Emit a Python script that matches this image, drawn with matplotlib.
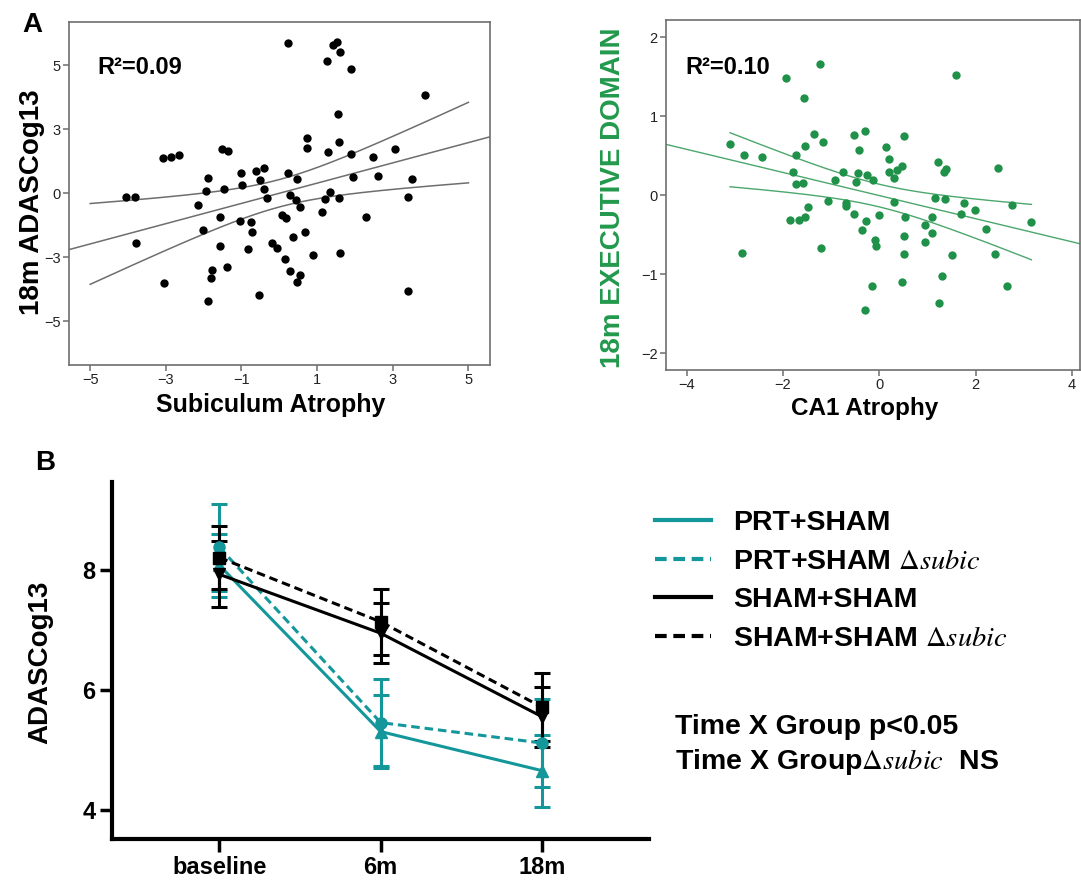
import numpy as np
import matplotlib
matplotlib.use("Agg")
import matplotlib.pyplot as plt
from matplotlib.lines import Line2D

plt.rcParams['font.family'] = ['Liberation Sans', 'DejaVu Sans']
plt.rcParams['mathtext.fontset'] = 'stix'

# ---------------- Panel A (left): Subiculum atrophy vs 18m ADASCog13 ----------------
subic_x = [0.23, 1.41, 1.52, 1.60, 1.27, 1.89, 3.86, 1.54, 0.72, 0.72, 1.57, 1.28, 1.89,
           2.48, 3.05, 2.61, 1.95, 3.51, 3.40, 1.35, 1.57, 1.21, 1.12, 2.29, 1.60, 3.40,
           0.88, 0.69, 0.36, 0.54, 0.45, 0.46, 0.23, 0.27, 0.08, 0.19, 0.15, 0.27, 0.55,
           0.48, -0.54, -0.20, -0.06, -0.33, -0.40, -0.41, -0.62, -0.52, -0.74, -0.71,
           -0.82, -1.04, -0.98, -1.02, -1.51, -1.35, -1.45, -1.58, -1.56, -1.37, -1.77,
           -1.80, -1.88, -2.01, -1.95, -1.88, -2.15, -2.65, -2.86, -3.07, -3.04, -3.80,
           -3.81, -4.04]
adas18_y = [7.02, 6.94, 7.09, 6.63, 6.20, 5.81, 4.59, 3.69, 2.59, 2.09, 2.41, 1.92, 1.83,
            1.67, 2.05, 0.81, 0.75, 0.66, -0.20, 0.05, -0.22, -0.30, -0.91, -1.11, -2.80,
            -4.59, -2.91, -1.83, -2.08, -0.67, -0.33, 0.64, 0.95, -0.11, -1.03, -1.19,
            -3.09, -3.64, -3.84, -4.19, -4.77, -2.34, -2.59, -0.23, 0.20, 1.16, 1.02, 0.61,
            -1.34, -1.81, -2.61, -1.30, 0.36, 0.95, 2.06, 1.95, 0.19, -1.14, -2.48, -3.47,
            -3.61, -4.00, -5.08, -1.72, 0.09, 0.69, -0.58, 1.77, 1.67, 1.64, -4.22, -2.36,
            -0.19, -0.20]
subic_xticks = [-5, -3, -1, 1, 3, 5]
adas_ytick_pos = [-6, -3, 0, 3, 6]
adas_ytick_labels = ['\u22125', '\u22123', '0', '3', '5']
r2_left = "R\u00b2=0.09"

# ---------------- Panel A (right): CA1 atrophy vs 18m executive domain ----------------
ca1_x = [-1.24, -1.94, -1.57, 1.59, -3.10, -2.82, -2.43, -2.86, -1.36, -1.17, -1.54, -1.72,
         -1.79, -1.72, -1.58, -1.47, -1.54, -1.66, -1.86, -1.21, -1.06, -0.91, -0.76, -0.69,
         -0.69, -0.52, -0.29, -0.42, -0.44, -0.26, -0.12, -0.48, -0.52, -0.27, -0.36, 0.00,
         -0.08, -0.06, -0.16, -0.30, 0.15, 0.20, 0.20, 0.31, 0.36, 0.47, 0.51, 0.31, 0.53,
         0.51, 0.52, 0.47, 0.95, 0.95, 1.09, 1.09, 1.16, 1.21, 1.34, 1.39, 1.37, 1.24, 1.30,
         1.52, 1.69, 1.77, 1.99, 2.21, 2.40, 2.47, 2.66, 2.76, 3.16]
exec18_y = [1.66, 1.48, 1.23, 1.53, 0.65, 0.51, 0.48, -0.73, 0.78, 0.68, 0.62, 0.51, 0.30,
            0.14, 0.16, -0.15, -0.27, -0.31, -0.31, -0.66, -0.07, 0.19, 0.30, -0.10, -0.13,
            0.77, 0.81, 0.57, 0.28, 0.26, 0.20, 0.17, -0.24, -0.33, -0.44, -0.25, -0.56,
            -0.64, -1.15, -1.45, 0.61, 0.46, 0.30, 0.22, 0.32, 0.37, 0.75, -0.08, -0.27,
            -0.52, -0.74, -1.09, -0.38, -0.59, -0.27, -0.47, -0.03, 0.42, 0.29, 0.33, -0.04,
            -1.36, -1.02, -0.75, -0.23, -0.09, -0.19, -0.43, -0.74, 0.35, -1.15, -0.12, -0.34]
ca1_xticks = [-4, -2, 0, 2, 4]
exec_yticks = [-2, -1, 0, 1, 2]
r2_right = "R\u00b2=0.10"

# ---------------- Panel B: ADASCog13 over time ----------------
timepoints = ['baseline', '6m', '18m']
prt_mean = [8.08, 5.31, 4.66]
prt_sem = [0.52, 0.61, 0.60]
prt_d_mean = [8.38, 5.46, 5.12]
prt_d_sem = [0.72, 0.72, 0.74]
sham_mean = [7.93, 6.95, 5.56]
sham_sem = [0.55, 0.50, 0.50]
sham_d_mean = [8.21, 7.14, 5.72]
sham_d_sem = [0.53, 0.55, 0.57]
series_labels = ['PRT+SHAM', 'PRT+SHAM $\\Delta\\mathit{subic}$',
                 'SHAM+SHAM', 'SHAM+SHAM $\\Delta\\mathit{subic}$']
b_yticks = [4, 6, 8]

TEAL = '#14979a'
GREEN = '#1f9148'
GREEN_LBL = '#22994c'
GRAY = '#6e6e6e'

W, H = 1081, 882
fig = plt.figure(figsize=(W / 100, H / 100), dpi=100)


def fit_ci(x, y, xs, t=1.993):
    x = np.asarray(x); y = np.asarray(y)
    b, a = np.polyfit(x, y, 1)
    n = len(x)
    res = y - (a + b * x)
    s = np.sqrt(np.sum(res ** 2) / (n - 2))
    xm = x.mean()
    sxx = np.sum((x - xm) ** 2)
    yfit = a + b * xs
    se = s * np.sqrt(1.0 / n + (xs - xm) ** 2 / sxx)
    return yfit, yfit - t * se, yfit + t * se


def style_a(ax):
    for sp in ax.spines.values():
        sp.set_color(GRAY)
        sp.set_linewidth(1.2)
    ax.tick_params(direction='out', length=4, width=1.1, color=GRAY,
                   labelsize=10.5, labelcolor='#222222', pad=2)


# ---- left scatter ----
axL = fig.add_axes([69 / W, 1 - 365 / H, 421 / W, 343 / H])
xlimL = (-5.56, 5.57)
axL.set_xlim(*xlimL)
axL.set_ylim(-8.06, 8.02)
axL.scatter(subic_x, adas18_y, s=36, color='black', zorder=3, linewidths=0)
xs_full = np.linspace(*xlimL, 200)
yfit, _, _ = fit_ci(subic_x, adas18_y, xs_full)
axL.plot(xs_full, yfit, color=GRAY, lw=1.1)
xs_ci = np.linspace(-5, 5, 200)
_, lo, hi = fit_ci(subic_x, adas18_y, xs_ci)
axL.plot(xs_ci, lo, color=GRAY, lw=1.1)
axL.plot(xs_ci, hi, color=GRAY, lw=1.1)
axL.set_xticks(subic_xticks)
axL.set_xticklabels([str(v).replace('-', '\u2212') for v in subic_xticks])
axL.set_yticks(adas_ytick_pos)
axL.set_yticklabels(adas_ytick_labels)
style_a(axL)
axL.set_xlabel('Subiculum Atrophy', fontsize=18, fontweight='bold', va='center')
axL.xaxis.set_label_coords(0.48, (365 - 405) / 343)
axL.set_ylabel('18m ADASCog13', fontsize=20, fontweight='bold', va='center')
axL.yaxis.set_label_coords((32 - 69) / 421, 0.475)
axL.text(0.0665, 0.866, r2_left, transform=axL.transAxes, fontsize=17,
         fontweight='bold', va='center', ha='left')

# ---- right scatter ----
axR = fig.add_axes([666 / W, 1 - 370 / H, 414 / W, 350 / H])
xlimR = (-4.43, 4.17)
axR.set_xlim(*xlimR)
axR.set_ylim(-2.21, 2.22)
axR.scatter(ca1_x, exec18_y, s=36, color=GREEN, zorder=3, linewidths=0)
xs_full = np.linspace(*xlimR, 200)
yfit, _, _ = fit_ci(ca1_x, exec18_y, xs_full)
axR.plot(xs_full, yfit, color=GREEN, lw=1.0, alpha=0.8)
xs_ci = np.linspace(min(ca1_x), max(ca1_x), 200)
_, lo, hi = fit_ci(ca1_x, exec18_y, xs_ci)
axR.plot(xs_ci, lo, color=GREEN, lw=1.0, alpha=0.8)
axR.plot(xs_ci, hi, color=GREEN, lw=1.0, alpha=0.8)
axR.set_xticks(ca1_xticks)
axR.set_xticklabels([str(v).replace('-', '\u2212') for v in ca1_xticks])
axR.set_yticks(exec_yticks)
axR.set_yticklabels([str(v).replace('-', '\u2212') for v in exec_yticks])
style_a(axR)
axR.set_xlabel('CA1 Atrophy', fontsize=17.5, fontweight='bold', va='center')
axR.xaxis.set_label_coords((865 - 666) / 414, (370 - 408) / 350)
axR.set_ylabel('18m EXECUTIVE DOMAIN', fontsize=20, fontweight='bold',
               color=GREEN_LBL, va='center')
axR.yaxis.set_label_coords((613 - 666) / 414, (370 - 198) / 350)
axR.text(0.046, 0.863, r2_right, transform=axR.transAxes, fontsize=17,
         fontweight='bold', va='center', ha='left')

fig.text(32 / W, 1 - 25 / H, 'A', fontsize=20, fontweight='bold', ha='center', va='center')
fig.text(45 / W, 1 - 463 / H, 'B', fontsize=20, fontweight='bold', ha='center', va='center')

# ---- panel B ----
axB = fig.add_axes([112.3 / W, 1 - 839 / H, 536.7 / W, 357 / H])
xpos = np.arange(len(timepoints))
lw = 2.2
dash = (0, (2.8, 1.6))
series = [
    (prt_mean, prt_sem, TEAL, '-', '^'),
    (prt_d_mean, prt_d_sem, TEAL, dash, 'o'),
    (sham_mean, sham_sem, 'black', '-', 'v'),
    (sham_d_mean, sham_d_sem, 'black', dash, 's'),
]
handles = []
for (m, e, c, ls, mk), lab in zip(series, series_labels):
    axB.errorbar(xpos, m, yerr=e, color=c, ecolor=c, elinewidth=lw, capsize=6,
                 capthick=lw, marker=mk, markersize=8, linestyle=ls, linewidth=lw)
    handles.append(Line2D([0], [0], color=c, linestyle=ls, linewidth=3))

axB.set_xlim(-0.665, 2.665)
axB.set_ylim(3.52, 9.47)
axB.set_xticks(xpos)
axB.set_xticklabels(timepoints)
axB.set_yticks(b_yticks)
for sp in ['top', 'right']:
    axB.spines[sp].set_visible(False)
for sp in ['left', 'bottom']:
    axB.spines[sp].set_linewidth(3)
axB.tick_params(direction='out', length=9, width=2.5, labelsize=17, pad=3)
for lbl in axB.get_xticklabels() + axB.get_yticklabels():
    lbl.set_fontweight('bold')
axB.set_ylabel('ADASCog13', fontsize=20, fontweight='bold', va='center')
axB.yaxis.set_label_coords((40 - 112.3) / 536.7, (839 - 662) / 357)

leg = fig.legend(handles, series_labels, loc='upper left',
                 bbox_to_anchor=(655 / W, 1 - 510 / H), frameon=False,
                 handlelength=1.95, handletextpad=0.8, labelspacing=0.44,
                 borderpad=0, borderaxespad=0,
                 prop={'family': ['Liberation Sans', 'DejaVu Sans'], 'weight': 'bold', 'size': 20.5})

fig.text(675 / W, 1 - 727 / H, 'Time X Group p<0.05', fontsize=20.5, fontweight='bold',
         ha='left', va='center')
fig.text(675 / W, 1 - 762 / H, 'Time X Group$\\Delta\\mathit{subic}$  NS', fontsize=20.5,
         fontweight='bold', ha='left', va='center')

fig.savefig('out.png', dpi=100)
